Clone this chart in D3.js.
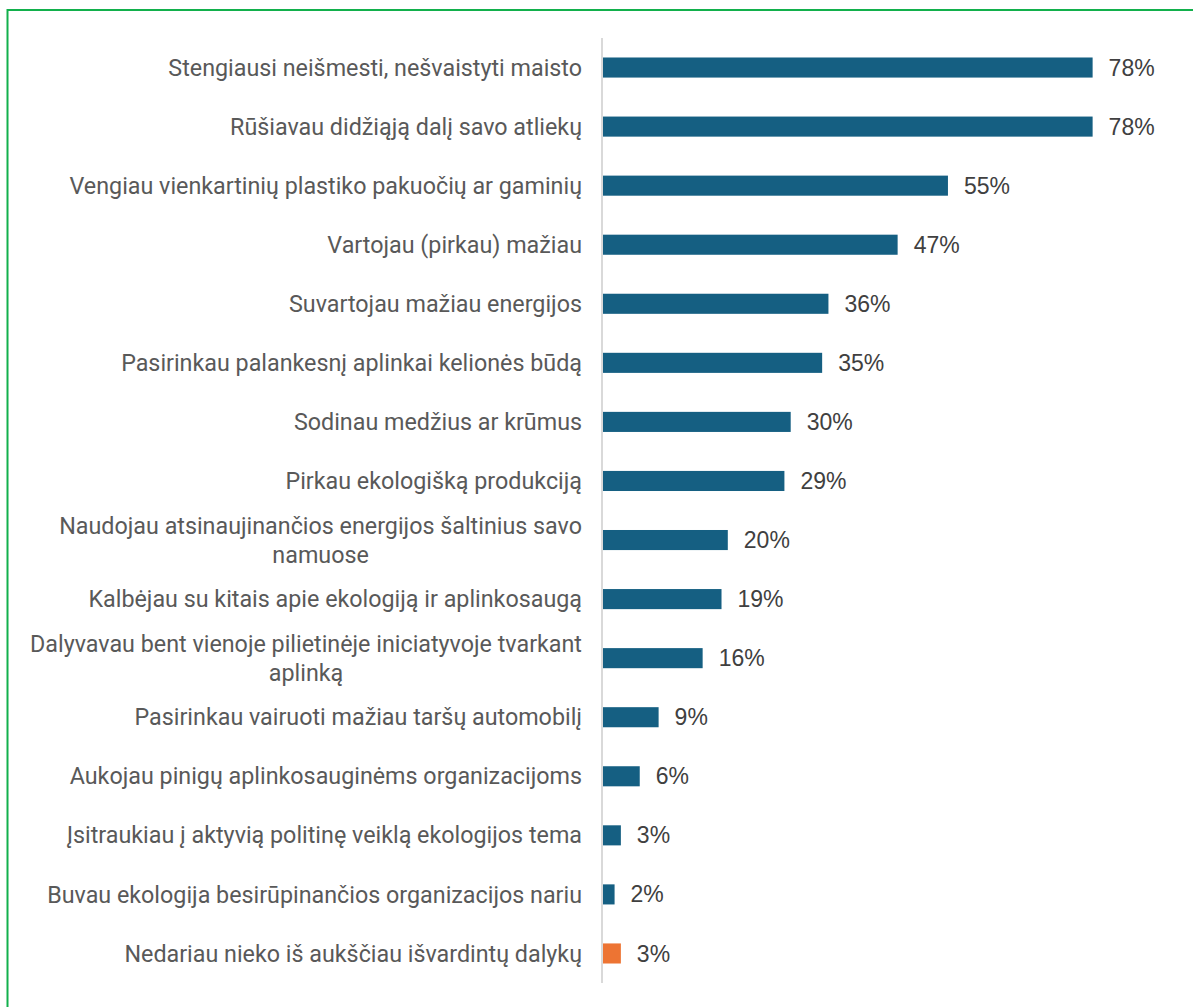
<!DOCTYPE html>
<html><head><meta charset="utf-8">
<script src="https://cdn.jsdelivr.net/npm/d3@7"></script>
<style>body{margin:0;background:#fff}svg{display:block}</style>
</head><body>
<svg id="c" width="1193" height="1007"></svg>
<script>
const categories = [
  ["Stengiausi neišmesti, nešvaistyti maisto"],
  ["Rūšiavau didžiąją dalį savo atliekų"],
  ["Vengiau vienkartinių plastiko pakuočių ar gaminių"],
  ["Vartojau (pirkau) mažiau"],
  ["Suvartojau mažiau energijos"],
  ["Pasirinkau palankesnį aplinkai kelionės būdą"],
  ["Sodinau medžius ar krūmus"],
  ["Pirkau ekologišką produkciją"],
  ["Naudojau atsinaujinančios energijos šaltinius savo", "namuose"],
  ["Kalbėjau su kitais apie ekologiją ir aplinkosaugą"],
  ["Dalyvavau bent vienoje pilietinėje iniciatyvoje tvarkant", "aplinką"],
  ["Pasirinkau vairuoti mažiau taršų automobilį"],
  ["Aukojau pinigų aplinkosauginėms organizacijoms"],
  ["Įsitraukiau į aktyvią politinę veiklą ekologijos tema"],
  ["Buvau ekologija besirūpinančios organizacijos nariu"],
  ["Nedariau nieko iš aukščiau išvardintų dalykų"]
];
const values = [78, 78, 55, 47, 36, 35, 30, 29, 20, 19, 16, 9, 6, 3, 2, 3];
const highlight = [false,false,false,false,false,false,false,false,false,false,false,false,false,false,false,true];

const svg = d3.select("#c");
svg.append("rect").attr("x",7.5).attr("y",10).attr("width",1200).attr("height",1010)
  .attr("fill","none").attr("stroke","#12b04c").attr("stroke-width",2);

const x0 = 602;
const x = d3.scaleLinear().domain([0, 100]).range([x0, x0 + 629]);
const y = d3.scaleBand().domain(d3.range(categories.length)).range([38, 983]).paddingInner(0.66).paddingOuter(0.33);

const g = svg.append("g");
g.selectAll("rect.bar").data(values).join("rect").attr("class","bar")
  .attr("x", x(0)).attr("y", (d,i)=>y(i)).attr("width", d=>x(d)-x(0)).attr("height", y.bandwidth())
  .attr("fill", (d,i)=>highlight[i] ? "#ed7433" : "#155f82");

svg.append("line").attr("x1",x0).attr("x2",x0).attr("y1",38).attr("y2",983)
  .attr("stroke","#d9d9d9").attr("stroke-width",2);

g.selectAll("text.val").data(values).join("text").attr("class","val")
  .attr("x", d=>x(d)+16).attr("y", (d,i)=>y(i)+y.bandwidth()/2)
  .attr("dy","0.35em").attr("font-family","Liberation Sans, Arial, sans-serif")
  .attr("font-size",23).attr("fill","#404040").text(d=>d+"%");

const labX = 582, lh = 29;
categories.forEach((lines,i)=>{
  const cy = y(i)+y.bandwidth()/2;
  const t = svg.append("text").attr("font-family","Roboto, sans-serif").attr("font-size",23.3)
    .attr("fill","#595959");
  if (lines.length === 1) {
    t.attr("x",labX).attr("y",cy).attr("dy","0.35em").attr("text-anchor","end").text(lines[0]);
  } else {
    const ts = t.append("tspan").text(lines[0]);
    const w = t.node().getComputedTextLength();
    t.attr("text-anchor","middle");
    ts.remove();
    lines.forEach((l,k)=>{
      t.append("tspan").attr("x",labX - w/2).attr("y", cy + (k - (lines.length-1)/2)*lh).attr("dy","0.35em").text(l);
    });
  }
});
</script>
</body></html>
